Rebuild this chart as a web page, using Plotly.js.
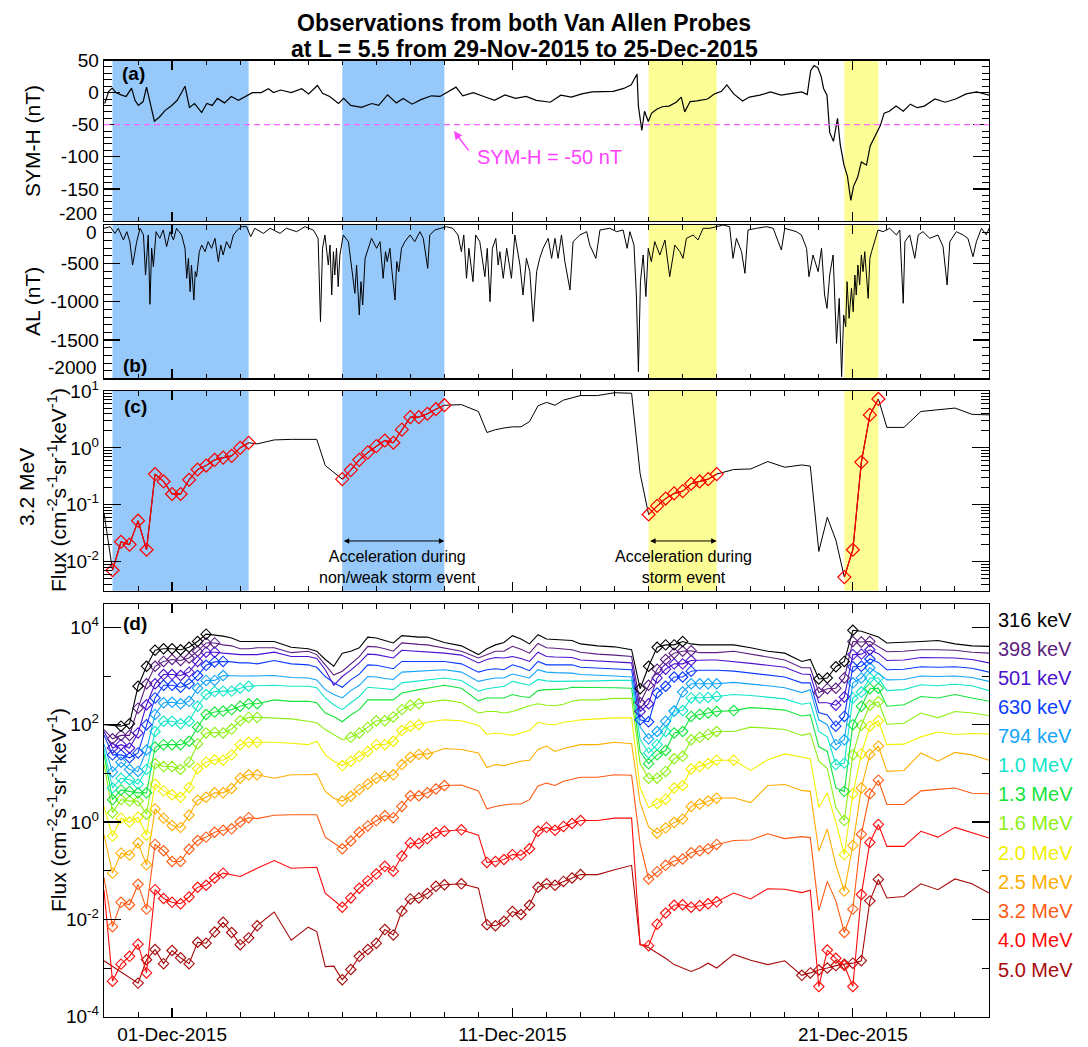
<!DOCTYPE html>
<html><head><meta charset="utf-8">
<script src="https://cdn.plot.ly/plotly-3.0.1.min.js"></script>
<style>html,body{margin:0;padding:0;background:#fff}#chart{width:1088px;height:1047px}</style>
</head><body><div id="chart"></div>
<script>
// ---------------- DATA ----------------
// time offsets are days after 29-Nov-2015 00:00 UT
const symhDay = [0.02,0.14,0.24,0.35,0.50,0.65,0.81,0.91,1.01,1.15,1.25,1.35,1.48,1.63,1.79,1.99,2.15,2.30,2.38,2.51,2.66,2.87,3.02,3.18,3.33,3.54,3.74,3.95,4.16,4.36,4.62,4.83,4.98,5.19,5.50,5.81,6.01,6.27,6.42,6.63,6.89,7.04,7.25,7.56,7.87,8.07,8.33,8.59,8.79,9.05,9.31,9.62,9.87,10.08,10.34,10.54,10.85,11.16,11.47,11.78,12.09,12.40,12.70,13.11,13.42,13.73,14.04,14.34,14.65,14.96,15.27,15.49,15.60,15.66,15.70,15.76,15.80,15.88,15.99,16.09,16.24,16.40,16.60,16.81,16.96,17.06,17.22,17.42,17.73,17.94,18.14,18.30,18.50,18.76,18.96,19.27,19.58,19.89,20.20,20.50,20.66,20.76,20.86,20.97,21.07,21.14,21.24,21.32,21.43,21.55,21.63,21.74,21.84,21.94,22.02,22.14,22.25,22.40,22.51,22.66,22.81,22.92,23.07,23.27,23.48,23.69,23.89,24.10,24.41,24.71,25.02,25.33,25.64,26.00];
const symhNT = [-17,2,7,0,-3.5,-6,7,-12,-20,-14,8.5,-17,-44.5,-38,-28,-20,-12,2,10,-23,-17,-31,-17,-20,-9,-16,-6,-12,-6,0,0,6,0,4,0,6,-2,11,-1,-6,-17,-9,-20,-23,-17,-20,-3.5,-16,-9,-18,-11,-5,-6,0,8.5,-5,0,-6,-12,-3.5,-9,-6,-12,-15,-4,-7,-2,1,1,2,6.5,12,23,29,-21,-42,-59,-29,-45,-32,-26,-22,-21,-15,-7,-30,-14,-13,-10,-2,2,12,-2,-13,-7,-4,1,-4,-2,1,-3,34,42,39,25,6.5,-4,-62,-76,-40,-81,-113,-130,-168,-146,-132,-108,-113,-83,-67,-51,-32,-29,-21,-29,-18,-23.5,-21,-10,-15,-10,-2,1,-4];

const alDay = [0.00,0.18,0.32,0.42,0.57,0.67,0.76,0.84,0.91,0.96,1.06,1.16,1.22,1.30,1.35,1.40,1.45,1.53,1.64,1.74,1.84,1.94,2.04,2.13,2.28,2.38,2.43,2.48,2.53,2.57,2.64,2.68,2.72,2.80,2.87,2.97,3.06,3.16,3.26,3.36,3.43,3.50,3.60,3.70,3.80,3.92,4.04,4.19,4.31,4.43,4.68,4.88,5.17,5.36,5.66,5.90,6.15,6.29,6.36,6.42,6.49,6.59,6.64,6.69,6.74,6.78,6.83,6.88,6.93,7.03,7.18,7.27,7.37,7.42,7.50,7.55,7.60,7.67,7.76,7.86,8.01,8.11,8.20,8.27,8.32,8.40,8.46,8.55,8.60,8.66,8.74,8.84,8.99,9.13,9.28,9.38,9.51,9.57,9.72,9.87,10.06,10.25,10.40,10.50,10.57,10.65,10.72,10.84,10.92,11.04,11.19,11.26,11.34,11.41,11.51,11.58,11.63,11.73,11.83,11.97,12.07,12.22,12.31,12.41,12.51,12.61,12.71,12.80,12.90,13.05,13.15,13.25,13.34,13.44,13.54,13.69,13.78,13.98,14.18,14.27,14.45,14.57,14.86,15.06,15.25,15.37,15.45,15.57,15.64,15.70,15.76,15.84,15.92,15.99,16.08,16.18,16.33,16.48,16.62,16.77,16.92,17.01,17.11,17.31,17.45,17.60,17.80,17.99,18.19,18.38,18.48,18.58,18.73,18.83,18.92,19.17,19.46,19.66,19.90,20.00,20.15,20.34,20.49,20.64,20.71,20.83,20.98,21.08,21.17,21.24,21.32,21.42,21.52,21.60,21.67,21.73,21.79,21.83,21.89,21.96,22.01,22.06,22.10,22.15,22.20,22.25,22.30,22.35,22.45,22.50,22.55,22.64,22.74,22.89,23.08,23.28,23.38,23.48,23.53,23.67,23.82,23.92,24.06,24.26,24.50,24.65,24.77,24.85,25.04,25.24,25.38,25.53,25.63,25.78,25.92,26.00];
const alNT = [-43,-22,-109,-43,-196,-87,-217,-522,-348,-217,-43,-130,-652,-130,-1034,-304,-543,-87,-174,-65,-282,-87,-196,-43,-130,-304,-695,-435,-869,-522,-978,-608,-674,-348,-261,-348,-217,-304,-174,-478,-261,-391,-217,-304,-130,-65,-22,-22,-152,-43,-109,-43,-109,-43,-87,-22,-65,-174,-1260,-304,-130,-522,-261,-913,-348,-652,-304,-804,-391,-130,-217,-522,-891,-522,-1173,-739,-1043,-435,-304,-174,-304,-217,-695,-348,-478,-304,-608,-978,-478,-608,-304,-217,-130,-217,-87,-174,-565,-130,-65,-43,-22,-43,-130,-348,-130,-695,-304,-739,-130,-217,-674,-304,-1000,-304,-174,-522,-348,-695,-304,-695,-130,-522,-913,-435,-608,-1260,-608,-435,-304,-174,-435,-174,-435,-130,-478,-847,-217,-130,-87,-261,-435,-65,-43,-87,-65,-304,-87,-261,-913,-1912,-739,-391,-934,-304,-478,-217,-391,-196,-674,-261,-348,-435,-174,-130,-196,-43,-43,-22,0,-22,-435,-174,-348,-630,-65,-43,-22,-43,-326,-43,-65,-87,-130,-304,-674,-391,-608,-304,-913,-1087,-652,-391,-1543,-956,-1977,-1173,-1326,-739,-1217,-826,-1130,-652,-913,-522,-782,-391,-608,-348,-956,-435,-348,-217,-65,-87,-43,-130,-65,-1021,-217,-130,-435,-130,-87,-174,-130,-282,-782,-217,-87,-130,-174,-413,-217,-43,-130,-43];

// flux sample times: index of 6-hour step after 29-Nov-2015 00:00 UT
const fluxStep6h = [0,1,2,3,4,5,6,7,8,9,10,11,12,13,14,15,16,17,18,20,22,24,25,26,27,28,29,30,31,32,33,34,35,36,37,38,39,40,42,44,45,46,47,48,49,50,51,52,53,54,55,56,58,60,62,63,64,65,66,67,68,69,70,71,72,74,76,78,80,82,83,84,85,86,87,88,89,90,91,92,94,96,98,100,102,104];

// log10 of flux (cm^-2 s^-1 sr^-1 keV^-1), one array per energy channel
const logFlux316 = [2.00,1.99,1.97,2.02,2.79,3.20,3.53,3.56,3.56,3.54,3.59,3.71,3.86,3.84,3.82,3.78,3.71,3.71,3.71, 3.71,3.59,3.56,3.51,3.34,3.20, 3.47,3.51,3.58,3.80,3.78,3.73,3.68,3.83,3.81,3.80,3.80,3.75,3.69, 3.62,3.44,3.56,3.64, 3.69,3.83,3.76,3.66,3.85,3.76,3.75,3.74,3.73,3.66, 3.62,3.60,3.54,2.74, 3.20,3.59,3.64,3.64,3.71,3.66,3.64,3.64,3.64, 3.64,3.58,3.51,3.47,3.30,3.34, 2.94,2.96,3.19,3.30,3.94,3.92,3.86,3.80, 3.68,3.69,3.71,3.73,3.66,3.62,3.61];
const logFlux398 = [1.90,1.71,1.78,1.78,2.34,2.84,3.20,3.30,3.34,3.32,3.37,3.51,3.68,3.68,3.64,3.62,3.56,3.56,3.58, 3.58,3.48,3.51,3.44,3.23,3.02, 3.10,3.25,3.40,3.61,3.60,3.56,3.51,3.68,3.66,3.65,3.64,3.61,3.58, 3.51,3.37,3.44,3.51, 3.51,3.61,3.55,3.47,3.67,3.58,3.57,3.56,3.54,3.49, 3.45,3.43,3.40,2.45, 2.81,3.14,3.34,3.47,3.51,3.52,3.48,3.48,3.48, 3.51,3.45,3.40,3.33,3.17,3.17, 2.66,2.74,2.75,2.96,3.71,3.70,3.71,3.60, 3.50,3.51,3.54,3.54,3.53,3.49,3.47];
const logFlux501 = [1.86,1.52,1.59,1.52,1.83,2.41,2.84,3.03,3.03,3.01,3.08,3.30,3.49,3.49,3.47,3.45,3.44,3.44,3.44, 3.49,3.40,3.40,3.36,3.13,2.81, 2.99,3.12,3.27,3.45,3.44,3.41,3.37,3.53,3.52,3.51,3.50,3.49,3.47, 3.43,3.27,3.34,3.38, 3.37,3.40,3.36,3.30,3.49,3.40,3.39,3.38,3.38,3.33, 3.31,3.30,3.27,2.27, 2.43,2.96,3.14,3.25,3.25,3.32,3.33,3.33,3.33, 3.30,3.26,3.22,3.18,3.04,3.03, 2.45,2.45,2.40,2.57,3.44,3.45,3.54,3.46, 3.32,3.33,3.38,3.37,3.37,3.34,3.27];
const logFlux630 = [1.79,1.38,1.38,1.32,1.42,2.00,2.55,2.81,2.81,2.77,2.84,3.01,3.22,3.29,3.30,3.29,3.27,3.27,3.25, 3.32,3.25,3.23,3.18,2.99,2.86, 2.77,2.92,3.04,3.23,3.22,3.19,3.15,3.30,3.30,3.30,3.30,3.30,3.30, 3.25,3.08,3.13,3.15, 3.13,3.23,3.18,3.11,3.30,3.23,3.23,3.23,3.23,3.18, 3.16,3.14,3.13,2.10, 2.06,2.65,2.79,2.98,2.98,3.10,3.12,3.12,3.12, 3.10,3.06,3.02,2.98,2.86,2.86, 2.25,2.20,1.97,2.17,3.19,3.20,3.35,3.28, 3.13,3.14,3.19,3.18,3.19,3.16,3.08];
const logFlux794 = [1.60,1.03,1.23,1.08,1.04,1.48,2.21,2.45,2.46,2.43,2.48,2.75,2.91,2.91,3.01,3.00,3.00,3.00,3.00, 3.01,2.97,2.96,2.92,2.72,2.62, 2.55,2.70,2.81,2.99,2.98,2.95,2.93,3.08,3.09,3.10,3.11,3.12,3.13, 3.08,2.89,2.93,2.96, 2.96,3.04,3.00,2.96,3.13,3.08,3.07,3.06,3.06,3.03, 3.02,3.00,2.98,1.95, 1.71,1.86,2.07,2.28,2.67,2.84,2.84,2.84,2.84, 2.87,2.84,2.80,2.76,2.66,2.72, 2.10,2.00,1.59,1.69,2.86,2.96,3.17,3.05, 2.92,2.93,3.00,2.99,3.00,2.97,2.89];
const logFlux1000 = [1.50,0.70,0.90,0.87,0.78,1.08,1.86,2.07,2.07,2.02,2.07,2.38,2.62,2.68,2.69,2.69,2.75,2.79,2.80, 2.81,2.79,2.79,2.76,2.55,2.41, 2.31,2.45,2.58,2.77,2.76,2.74,2.72,2.86,2.88,2.90,2.92,2.94,2.96, 2.91,2.69,2.74,2.77, 2.79,2.89,2.85,2.81,2.93,2.90,2.89,2.89,2.89,2.89, 2.90,2.91,2.91,1.70, 1.42,1.59,1.86,2.28,2.29,2.55,2.55,2.56,2.58, 2.62,2.60,2.57,2.53,2.42,2.45, 1.86,1.75,1.18,1.21,2.55,2.67,2.96,2.96, 2.70,2.72,2.82,2.80,2.83,2.80,2.70];
const logFlux1300 = [1.40,0.46,0.66,0.63,0.60,0.60,1.54,1.59,1.59,1.59,1.66,1.95,2.21,2.26,2.28,2.31,2.38,2.43,2.43, 2.51,2.48,2.48,2.45,2.24,2.17, 2.06,2.20,2.31,2.51,2.51,2.51,2.51,2.65,2.69,2.72,2.75,2.78,2.81, 2.75,2.49,2.55,2.55, 2.55,2.62,2.58,2.56,2.70,2.72,2.72,2.73,2.77,2.77, 2.76,2.76,2.75,1.45, 1.20,1.38,1.47,1.83,1.86,2.17,2.21,2.24,2.27, 2.29,2.35,2.33,2.30,2.18,2.20, 1.55,1.45,0.70,0.63,2.00,2.38,2.74,2.75, 2.38,2.41,2.58,2.55,2.62,2.55,2.48];
const logFlux1600 = [1.20,0.19,0.46,0.43,0.43,0.16,1.20,1.14,1.14,1.08,1.23,1.61,1.83,1.84,1.83,1.91,2.08,2.15,2.15, 2.13,2.12,2.07,2.04,1.90,1.80, 1.69,1.74,1.83,1.95,2.08,2.08,2.16,2.31,2.40,2.43,2.46,2.49,2.51, 2.45,2.24,2.27,2.27, 2.24,2.27,2.33,2.39,2.43,2.40,2.39,2.42,2.48,2.51, 2.51,2.54,2.54,1.20, 0.90,0.90,1.04,1.30,1.35,1.69,1.74,1.80,1.86, 1.86,1.95,1.93,1.90,1.78,1.82, 1.25,1.10,0.30,0.03,1.38,1.99,2.40,2.47, 2.01,2.03,2.24,2.14,2.27,2.24,2.19];
const logFlux2000 = [0.32,-0.29,0.08,0.00,0.10,-0.27,0.78,0.64,0.56,0.51,0.71,1.10,1.23,1.28,1.27,1.38,1.59,1.64,1.64, 1.64,1.62,1.59,1.66,1.38,1.25, 1.16,1.25,1.35,1.45,1.59,1.59,1.66,1.88,1.97,2.00,2.05,2.08,2.10, 2.08,1.99,1.80,1.83, 1.81,1.78,1.83,1.88,2.05,2.01,2.00,2.05,2.07,2.10, 2.12,2.14,2.14,0.70, 0.30,0.38,0.47,0.70,0.75,1.09,1.14,1.20,1.27, 1.27,1.06,1.28,1.40,1.33,1.30, 0.30,0.60,0.00,-0.67,0.58,1.40,1.97,2.08, 1.59,1.60,1.75,1.85,1.80,1.82,1.81];
const logFlux2500 = [-0.26,-1.05,-0.64,-0.68,-0.43,-0.88,0.27,0.08,-0.07,-0.11,0.14,0.45,0.51,0.60,0.60,0.69,0.90,0.97,0.97, 0.90,0.97,0.97,0.99,0.63,0.49, 0.43,0.53,0.67,0.78,0.90,0.94,0.97,1.18,1.33,1.39,1.40,1.45,1.51, 1.49,1.42,1.12,1.18, 1.16,1.20,1.25,1.27,1.49,1.56,1.45,1.51,1.55,1.59, 1.59,1.64,1.61,0.40, -0.10,-0.23,-0.12,-0.01,0.06,0.32,0.37,0.43,0.49, 0.50,0.40,0.75,0.77,0.65,0.63, -0.60,-0.14,-0.88,-1.42,-0.48,0.70,1.39,1.56, 1.04,1.06,1.42,1.25,1.43,1.38,1.27];
const logFlux3200 = [-1.14,-2.15,-1.65,-1.70,-1.28,-1.79,-0.46,-0.59,-0.81,-0.81,-0.56,-0.38,-0.31,-0.21,-0.17,-0.14,0.00,0.09,0.07, 0.14,0.15,null,0.15,-0.31,null, -0.55,-0.39,-0.21,-0.08,0.03,0.13,0.09,0.32,0.54,0.54,0.60,0.68,0.75, 0.76,0.64,0.27,0.32, 0.35,0.37,0.37,0.46,0.74,0.80,0.75,0.84,0.88,0.92, 0.92,0.97,0.96,-0.45, -1.17,-1.02,-0.89,-0.80,-0.76,-0.63,-0.59,-0.55,-0.46, -0.38,-0.37,-0.24,-0.34,-0.30,-0.32, -1.82,-1.22,-1.62,-2.27,-1.79,-0.25,0.58,0.86, 0.36,0.36,0.64,0.67,0.70,0.59,0.58];
const logFlux4000 = [-1.40,-3.27,-2.92,-2.76,-2.51,-3.10,-1.39,-1.57,-1.65,-1.68,-1.54,-1.34,-1.30,-1.15,-1.05,null,-1.12,null,-0.95, -0.79,-0.95,-0.93,-0.93,-1.46,-1.60, -1.75,-1.56,-1.36,-1.21,-1.07,-0.91,-1.01,-0.70,-0.43,-0.44,-0.34,-0.22,-0.19, -0.16,-0.27,-0.83,-0.81, -0.77,-0.67,-0.68,-0.55,-0.19,-0.11,-0.17,-0.09,-0.03,0.03, 0.03,0.08,0.08,-2.52, -2.54,-2.10,-1.87,-1.71,-1.70,-1.75,-1.72,-1.68,-1.64, -1.46,-1.58,-1.37,-1.38,-1.45,-1.40, -3.38,-2.63,-2.80,-2.95,-3.38,-1.49,-0.42,-0.05, -0.50,-0.50,-0.19,-0.31,-0.11,-0.22,-0.33];
const logFlux5000 = [-2.85,null,null,null,-3.31,-2.83,-2.62,-2.91,-2.64,-2.79,-2.91,-2.47,-2.49,-2.26,-2.06,-2.27,-2.52,-2.38,-2.13, -1.85,-2.43,-2.16,-2.25,-2.97,-2.96, -3.24,-3.03,-2.76,-2.62,-2.49,-2.21,-2.32,-1.83,-1.58,-1.56,-1.47,-1.32,-1.29, -1.27,-1.36,-2.11,-2.13, -2.04,-1.84,-1.90,-1.71,-1.34,-1.27,-1.30,-1.22,-1.15,-1.08, -1.08,-0.98,-0.89,-2.52, -2.58,-2.69,-2.80,-2.93,-3.00,-3.07,-3.00,-2.90,-3.00, -2.72,-2.84,-2.93,-2.85,-3.15,-3.10, -3.04,-3.00,-2.95,-2.92,-2.90,-2.85,-1.62,-1.18, -1.56,-1.53,-1.27,-1.39,-1.17,-1.27,-1.46];

// acceleration intervals (in 6-hour step indices) where samples are marked with diamonds
const accel316 = [[2,12],[63,68],[84,88]];
const accel398 = [[1,13],[63,69],[84,90]];
const accel501 = [[1,13],[63,69],[86,90]];
const accel630 = [[1,14],[63,69],[86,90]];
const accel794 = [[1,14],[64,72],[86,90]];
const accel1000 = [[1,17],[64,72],[86,91]];
const accel1300 = [[1,18],[64,74],[87,91]];
const accel1600 = [[1,18],[29,37],[64,72],[87,91]];
const accel2000 = [[1,18],[28,37],[65,74],[87,91]];
const accel2500 = [[1,18],[28,38],[65,72],[87,91]];
const accel3200 = [[1,17],[28,40],[64,72],[87,91]];
const accel4000 = [[1,14],[28,42],[45,56],[64,72],[84,91]];
const accel5000 = [[4,18],[28,42],[45,56],[82,91]];

const channelLabels = ['316 keV','398 keV','501 keV','630 keV','794 keV','1.0 MeV','1.3 MeV','1.6 MeV','2.0 MeV','2.5 MeV','3.2 MeV','4.0 MeV','5.0 MeV'];

// shaded event intervals (day offsets)
const blueEvents = [[0.25,4.25],[7.0,10.0]];
const yellowEvents = [[16.0,18.0],[21.75,22.75]];

const xMajorDay = [2,12,22];
const xMajorLabels = ['01-Dec-2015','11-Dec-2015','21-Dec-2015'];
const symhTicks = [50,0,-50,-100,-150,-200];
const symhTickText = ['50','0','-50','-100','-150','-200'];
const alTicks = [0,-500,-1000,-1500,-2000];
const alTickText = ['0','-500','-1000','-1500','-2000'];
const symhThreshold = -50;

// ---------------- STYLE / BUILD ----------------
const FONT = 'Liberation Sans, Arial, Helvetica, sans-serif';
const W = 1088, H = 1047;
const EPOCH = Date.UTC(2015,10,29);
function dayToDate(t){ return new Date(EPOCH + Math.round(t*86400000)).toISOString().replace('T',' ').slice(0,19); }
const px = v => v / W;
const py = v => 1 - v / H;

const channelColors = ['#000000','#5b1e80','#4a12d0','#0a3cff','#14a4fa','#12e6c8','#14e43c','#8cf014','#f0f000','#ffae00','#ff5a12','#ff0a0a','#a80a0a'];
const logSeries = [logFlux316,logFlux398,logFlux501,logFlux630,logFlux794,logFlux1000,logFlux1300,logFlux1600,logFlux2000,logFlux2500,logFlux3200,logFlux4000,logFlux5000];
const accelSeries = [accel316,accel398,accel501,accel630,accel794,accel1000,accel1300,accel1600,accel2000,accel2500,accel3200,accel4000,accel5000];

const fluxTimes = fluxStep6h.map(k => dayToDate(k*0.25));
const toFlux = arr => arr.map(v => v === null ? null : Math.pow(10, v));

const traces = [];
traces.push({x: symhDay.map(dayToDate), y: symhNT, xaxis:'x', yaxis:'y', mode:'lines', line:{color:'#000', width:1.2}, hoverinfo:'skip'});
traces.push({x: alDay.map(dayToDate), y: alNT, xaxis:'x2', yaxis:'y2', mode:'lines', line:{color:'#000', width:1}, hoverinfo:'skip'});

function segments(yvals, ranges){
  const sx = [], sy = [];
  ranges.forEach(([a,b]) => {
    fluxStep6h.forEach((k,i) => { if(k>=a && k<=b && yvals[i]!==null){ sx.push(fluxTimes[i]); sy.push(yvals[i]); } });
    sx.push(null); sy.push(null);
  });
  return {sx, sy};
}

const f32 = toFlux(logFlux3200);
traces.push({x: fluxTimes, y: f32, xaxis:'x3', yaxis:'y3', mode:'lines', connectgaps:true, line:{color:'#000', width:1}, hoverinfo:'skip'});
{
  const s = segments(f32, accel3200);
  traces.push({x: s.sx, y: s.sy, xaxis:'x3', yaxis:'y3', mode:'lines+markers', connectgaps:false,
    line:{color:'#ff0000', width:1.3}, marker:{symbol:'diamond-open', size:10, color:'#ff0000', line:{width:1.2, color:'#ff0000'}}, hoverinfo:'skip'});
}

for(let c = logSeries.length-1; c >= 0; c--){
  const y = toFlux(logSeries[c]);
  const col = channelColors[c];
  traces.push({x: fluxTimes, y, xaxis:'x4', yaxis:'y4', mode:'lines', connectgaps:true, line:{color:col, width:1.1}, hoverinfo:'skip'});
  const s = segments(y, accelSeries[c]);
  traces.push({x: s.sx, y: s.sy, xaxis:'x4', yaxis:'y4', mode:'markers',
    marker:{symbol:'diamond-open', size:8, color:col, line:{width:1.1, color:col}}, hoverinfo:'skip'});
}

const X0 = 104/W, X1 = 989/W;
const xMinorDays = []; for(let d=1; d<=25; d++){ if(!xMajorDay.includes(d)) xMinorDays.push(dayToDate(d)); }
function xAx(anchor, showLabels){
  return {type:'date', domain:[X0,X1], anchor, range:[dayToDate(0), dayToDate(26)],
    showline:true, mirror:'ticks', linecolor:'#000', linewidth:1.3,
    ticks:'inside', ticklen:9, tickwidth:1.2, tickcolor:'#000',
    tickmode:'array', tickvals:xMajorDay.map(dayToDate), ticktext:xMajorLabels, showticklabels:showLabels,
    tickfont:{family:FONT, size:19, color:'#000'}, showgrid:false, zeroline:false,
    minor:{ticks:'inside', ticklen:4.5, tickwidth:1, tickcolor:'#000', tickmode:'array', tickvals:xMinorDays, showgrid:false}};
}
function yAx(domain, anchor, extra, minorVals, majLen, minLen){
  return Object.assign({domain, anchor, showline:true, mirror:'ticks', linecolor:'#000', linewidth:1.3,
    ticks:'inside', ticklen:majLen, tickwidth:1.2, tickcolor:'#000', showgrid:false, zeroline:false,
    tickfont:{family:FONT, size:19, color:'#000'},
    minor:{ticks:'inside', ticklen:minLen, tickwidth:1, tickcolor:'#000', tickmode:'array', tickvals:minorVals, showgrid:false}}, extra);
}
const symMinor = []; for(let v=-200; v<=50; v+=10){ if(v%50!==0) symMinor.push(v); }
const alMinor = []; for(let v=-2000; v<=0; v+=100){ if(v%500!==0) alMinor.push(v); }
const cMinor = []; for(let e=-3; e<=0; e++){ for(let m=2; m<=9; m++){ cMinor.push(m*Math.pow(10,e)); } }

// end labels of panels (a) and (b) are drawn as shifted annotations (as in the original) to avoid collisions
const symhText = symhTickText.map((t,i) => i === symhTickText.length-1 ? '' : t);
const alText = alTickText.map((t,i) => (i === 0 || i === alTickText.length-1) ? '' : t);

const supFlux = 'Flux (cm<sup>-2</sup>s<sup>-1</sup>sr<sup>-1</sup>keV<sup>-1</sup>)';

const shapes = [];
[['x','y'],['x2','y2'],['x3','y3']].forEach(([xr,yr]) => {
  blueEvents.forEach(([a,b]) => shapes.push({type:'rect', xref:xr, yref:yr+' domain', x0:dayToDate(a), x1:dayToDate(b), y0:0, y1:1, fillcolor:'#96c8fa', line:{width:0}, layer:'below'}));
  yellowEvents.forEach(([a,b]) => shapes.push({type:'rect', xref:xr, yref:yr+' domain', x0:dayToDate(a), x1:dayToDate(b), y0:0, y1:1, fillcolor:'#fdfd96', line:{width:0}, layer:'below'}));
});
shapes.push({type:'line', xref:'x domain', yref:'y', x0:0, x1:1, y0:symhThreshold, y1:symhThreshold, line:{color:'#ff66ff', width:1.3, dash:'6px,4px'}});

const ann = [];
function txt(text, x, y, size, opts){ ann.push(Object.assign({text, x:px(x), y:py(y), xref:'paper', yref:'paper', showarrow:false, xanchor:'center', yanchor:'middle', font:{family:FONT, size, color:'#000'}}, opts||{})); }
txt('<b>Observations from both Van Allen Probes</b>', 524, 23, 23);
txt('<b>at L = 5.5 from 29-Nov-2015 to 25-Dec-2015</b>', 524, 49, 23);
txt('<b>(a)</b>', 133, 73, 19);
txt('<b>(b)</b>', 135, 365, 19);
txt('<b>(c)</b>', 135, 406, 19);
txt('<b>(d)</b>', 135, 623, 19);
txt('SYM-H (nT)', 33, 141, 21, {textangle:-90});
txt('AL (nT)', 33, 302, 21, {textangle:-90});
txt('3.2 MeV', 26, 487, 21, {textangle:-90});
txt(supFlux, 57, 490, 21, {textangle:-90});
txt(supFlux, 57, 810, 21, {textangle:-90});
// shifted end tick labels
txt(symhTickText[symhTickText.length-1], 99, 213, 19, {xanchor:'right'});
txt(alTickText[0], 99, 232, 19, {xanchor:'right'});
txt(alTickText[alTickText.length-1], 99, 367, 19, {xanchor:'right'});
txt('SYM-H = -50 nT', 549, 157, 20, {font:{family:FONT, size:20, color:'#ff44ff'}});
txt('Acceleration during<br>non/weak storm event', 397, 567, 16);
txt('Acceleration during<br>storm event', 683, 567, 16);
const labelY = [620,649.3,678.3,707.3,736,765,794,823.3,852.7,881.7,910.7,940,969.5];
channelLabels.forEach((lab,i) => txt(lab, 996, labelY[i], 20, {xanchor:'left', font:{family:FONT, size:20, color:channelColors[i]}}));
ann.push({xref:'x', yref:'y', x:dayToDate(10.28), y:-60, ax:16, ay:21, axref:'pixel', ayref:'pixel', text:'', showarrow:true, arrowcolor:'#ff44ff', arrowhead:2, arrowsize:1.1, arrowwidth:1.5});
[[7,10],[16,18]].forEach(([a,b]) => ann.push({xref:'x3', yref:'y3', x:dayToDate(b), y:-1.636, axref:'x3', ayref:'y3', ax:dayToDate(a), ay:-1.636, text:'', showarrow:true, arrowside:'end+start', arrowhead:2, arrowsize:1.1, arrowwidth:1, arrowcolor:'#000'}));

const layout = {
  width:W, height:H, margin:{l:0,r:0,t:0,b:0}, paper_bgcolor:'#fff', plot_bgcolor:'rgba(0,0,0,0)', showlegend:false,
  font:{family:FONT, size:19, color:'#000'},
  xaxis: xAx('y', false), xaxis2: xAx('y2', false), xaxis3: xAx('y3', false), xaxis4: xAx('y4', true),
  yaxis: yAx([py(221), py(60.5)], 'x', {range:[-200,50], tickmode:'array', tickvals:symhTicks, ticktext:symhText}, symMinor, 16, 7.5),
  yaxis2: yAx([py(378.4), py(225)], 'x2', {range:[-2000,0], tickmode:'array', tickvals:alTicks, ticktext:alText}, alMinor, 16, 7.5),
  yaxis3: yAx([py(590.7), py(391)], 'x3', {type:'log', range:[-2.51,1.0], tickmode:'array', tickvals:[0.01,0.1,1,10], ticktext:['10<sup>-2</sup>','10<sup>-1</sup>','10<sup>0</sup>','10<sup>1</sup>']}, cMinor, 17, 8),
  yaxis4: yAx([py(1016.7), py(604)], 'x4', {type:'log', range:[-4,4.48], tickmode:'array', tickvals:[1e-4,1e-2,1,1e2,1e4], ticktext:['10<sup>-4</sup>','10<sup>-2</sup>','10<sup>0</sup>','10<sup>2</sup>','10<sup>4</sup>']}, [1e-3,0.1,10,1e3], 17, 7),
  shapes, annotations: ann
};
Plotly.newPlot('chart', traces, layout, {displayModeBar:false, staticPlot:true});
</script></body></html>
